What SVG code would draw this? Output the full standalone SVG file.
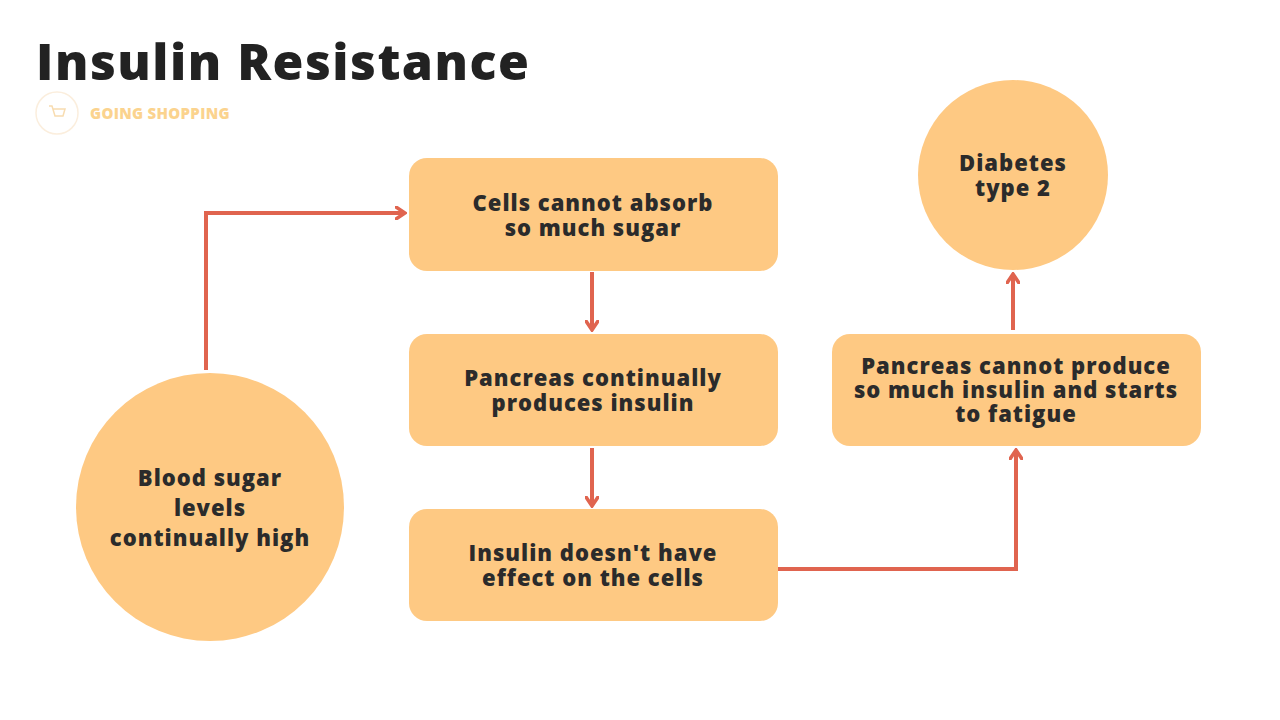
<svg xmlns="http://www.w3.org/2000/svg" width="1280" height="720" viewBox="0 0 1280 720">
<defs>
<style>
.n{fill:#fec983}
.t{font-family:"Open Sans","DejaVu Sans",sans-serif;font-weight:800;font-size:22px;letter-spacing:1px;fill:#2b2b2b;text-anchor:middle}
.c{fill:none;stroke:#e0644f;stroke-width:4}
</style>
<marker id="a" viewBox="0 0 12 14" refX="10" refY="7" markerWidth="12" markerHeight="14" markerUnits="userSpaceOnUse" orient="auto"><path d="M1,1 L10,7 L1,13" fill="none" stroke="#e0644f" stroke-width="3.5" stroke-linecap="round"/></marker>
</defs>
<rect width="1280" height="720" fill="#fff"/>
<text x="36" y="80" font-family="'Open Sans',sans-serif" font-weight="800" font-size="50" letter-spacing="1.5" fill="#222">Insulin Resistance</text>
<g id="logo">
<circle cx="57" cy="113" r="21" fill="none" stroke="#fbeedd" stroke-width="1.5"/>
<path d="M49,106 h3 l3,10 h8 l2,-7 h-12" fill="none" stroke="#f8dcb0" stroke-width="1.5"/>
<text x="90" y="119" font-family="'Open Sans',sans-serif" font-weight="800" font-size="15" letter-spacing="0.3" fill="#fbd38e">GOING SHOPPING</text>
</g>
<g id="connectors">
<path class="c" d="M206,370 V213 H405" marker-end="url(#a)"/>
<path class="c" d="M592,272 V330" marker-end="url(#a)"/>
<path class="c" d="M592,448 V506" marker-end="url(#a)"/>
<path class="c" d="M778,569 H1016 V450" marker-end="url(#a)"/>
<path class="c" d="M1013,330 V274" marker-end="url(#a)"/>
</g>
<g id="n1"><circle class="n" cx="210" cy="507" r="134"/><text class="t"><tspan x="210" y="486">Blood sugar</tspan><tspan x="210" y="516">levels</tspan><tspan x="210" y="546">continually high</tspan></text></g>
<g id="n2"><rect class="n" x="409" y="158" width="369" height="113" rx="18"/><text class="t"><tspan x="593" y="211">Cells cannot absorb</tspan><tspan x="593" y="236">so much sugar</tspan></text></g>
<g id="n3"><rect class="n" x="409" y="334" width="369" height="112" rx="18"/><text class="t"><tspan x="593" y="386">Pancreas continually</tspan><tspan x="593" y="411">produces insulin</tspan></text></g>
<g id="n4"><rect class="n" x="409" y="509" width="369" height="112" rx="18"/><text class="t"><tspan x="593" y="561">Insulin doesn't have</tspan><tspan x="593" y="586">effect on the cells</tspan></text></g>
<g id="n5"><rect class="n" x="832" y="334" width="369" height="112" rx="18"/><text class="t"><tspan x="1016" y="374">Pancreas cannot produce</tspan><tspan x="1016" y="398">so much insulin and starts</tspan><tspan x="1016" y="422">to fatigue</tspan></text></g>
<g id="n6"><circle class="n" cx="1013" cy="175" r="95"/><text class="t"><tspan x="1013" y="171">Diabetes</tspan><tspan x="1013" y="196">type 2</tspan></text></g>
</svg>
